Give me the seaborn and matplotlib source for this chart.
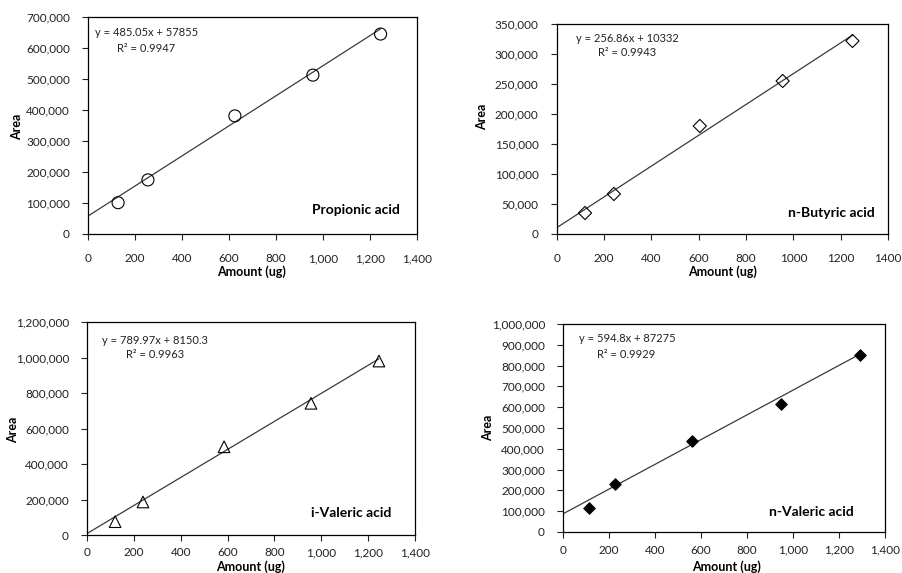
import matplotlib
matplotlib.use("Agg")
import matplotlib.pyplot as plt
import numpy as np
import pandas as pd
import seaborn as sb
from matplotlib.ticker import StrMethodFormatter, MultipleLocator

# data
prop_x = [128, 255, 625, 957, 1245]
prop_y = [101000, 174500, 381000, 512500, 645000]
buty_x = [120, 242, 605, 955, 1250]
buty_y = [35000, 66700, 180000, 255000, 321700]
ival_x = [120, 239, 585, 956, 1246]
ival_y = [75000, 186000, 497000, 742000, 980000]
nval_x = [113, 225, 563, 949, 1292]
nval_y = [114000, 229000, 439000, 617000, 849000]

names = ["Propionic acid", "n-Butyric acid", "i-Valeric acid", "n-Valeric acid"]
slopes = [485.05, 256.86, 789.97, 594.8]
intercepts = [57855, 10332, 8150.3, 87275]
eq_text = ["y = 485.05x + 57855", "y = 256.86x + 10332",
           "y = 789.97x + 8150.3", "y = 594.8x + 87275"]
r2_text = ["R² = 0.9947", "R² = 0.9943", "R² = 0.9963", "R² = 0.9929"]
y_max = [700000, 350000, 1200000, 1000000]
y_step = [100000, 50000, 200000, 100000]

sb.set_style("ticks")
plt.rcParams["font.family"] = ["Lato", "DejaVu Sans"]

W, H = 903, 573
fig = plt.figure(figsize=(W / 100, H / 100), dpi=100)

# axes boxes in pixels: left, right, top, bottom
boxes = [(88, 417, 17, 234), (556.6, 888, 24, 234),
         (87, 415, 322, 535), (563, 885, 324, 532)]
markers = ["o", "D", "^", "D"]
msizes = [75, 45, 70, 34]
filled = [False, False, False, True]
# text anchors in pixels
eq_pos = [(95, 33), (576, 39), (102, 340), (579, 339)]
r2_pos = [(117, 49), (598, 53), (126, 355), (597, 354)]
name_pos = [(400, 210), (875, 213), (391, 513), (854, 512)]
area_pos = [(17, 127), (482, 117), (13, 430), (488, 428)]
amount_pos = [(252, 272), (723, 272), (251, 566.5), (727, 566.5)]
xpads = [10, 10, 5, 5]
xs = [prop_x, buty_x, ival_x, nval_x]
ys = [prop_y, buty_y, ival_y, nval_y]

txtc = "#222222"
for i in range(4):
    l, r, t, b = boxes[i]
    ax = fig.add_axes([l / W, 1 - b / H, (r - l) / W, (b - t) / H])
    df = pd.DataFrame({"x": xs[i], "y": ys[i]})
    xl = np.array([0, max(xs[i])])
    line = pd.DataFrame({"x": xl, "y": slopes[i] * xl + intercepts[i]})
    sb.lineplot(data=line, x="x", y="y", ax=ax, color="#3a3a3a", linewidth=0.9)
    if filled[i]:
        sb.scatterplot(data=df, x="x", y="y", ax=ax, marker=markers[i], s=msizes[i],
                       color="black", edgecolor="black", linewidth=0.8, zorder=3)
    else:
        sb.scatterplot(data=df, x="x", y="y", ax=ax, marker=markers[i], s=msizes[i],
                       facecolor="none", edgecolor="black", linewidth=0.8, zorder=3)
    ax.set_xlim(0, 1400)
    ax.set_ylim(0, y_max[i])
    ax.xaxis.set_major_locator(MultipleLocator(200))
    ax.yaxis.set_major_locator(MultipleLocator(y_step[i]))
    ax.yaxis.set_major_formatter(StrMethodFormatter("{x:,.0f}"))
    if i == 1:
        ax.xaxis.set_major_formatter(StrMethodFormatter("{x:.0f}"))
    else:
        ax.xaxis.set_major_formatter(StrMethodFormatter("{x:,.0f}"))
    ax.tick_params(axis="both", direction="out", length=4, width=0.8,
                   labelsize=8.5, colors=txtc)
    ax.tick_params(axis="x", pad=xpads[i])
    ax.tick_params(axis="y", pad=9)
    for s in ax.spines.values():
        s.set_visible(True)
        s.set_linewidth(0.9)
        s.set_color("black")
    ax.set_xlabel("")
    ax.set_ylabel("")

    px, py = eq_pos[i]
    fig.text(px / W, 1 - py / H, eq_text[i], fontsize=8, color=txtc, va="center")
    px, py = r2_pos[i]
    fig.text(px / W, 1 - py / H, r2_text[i], fontsize=8, color=txtc, va="center")
    px, py = name_pos[i]
    fig.text(px / W, 1 - py / H, names[i], fontsize=10, fontweight="bold",
             color="black", ha="right", va="center")
    px, py = area_pos[i]
    fig.text(px / W, 1 - py / H, "Area", fontsize=9, fontweight="bold",
             color="black", ha="center", va="center", rotation=90)
    px, py = amount_pos[i]
    fig.text(px / W, 1 - py / H, "Amount (ug)", fontsize=9, fontweight="bold",
             color="black", ha="center", va="center")

fig.savefig("out.png", dpi=100, facecolor="white")
